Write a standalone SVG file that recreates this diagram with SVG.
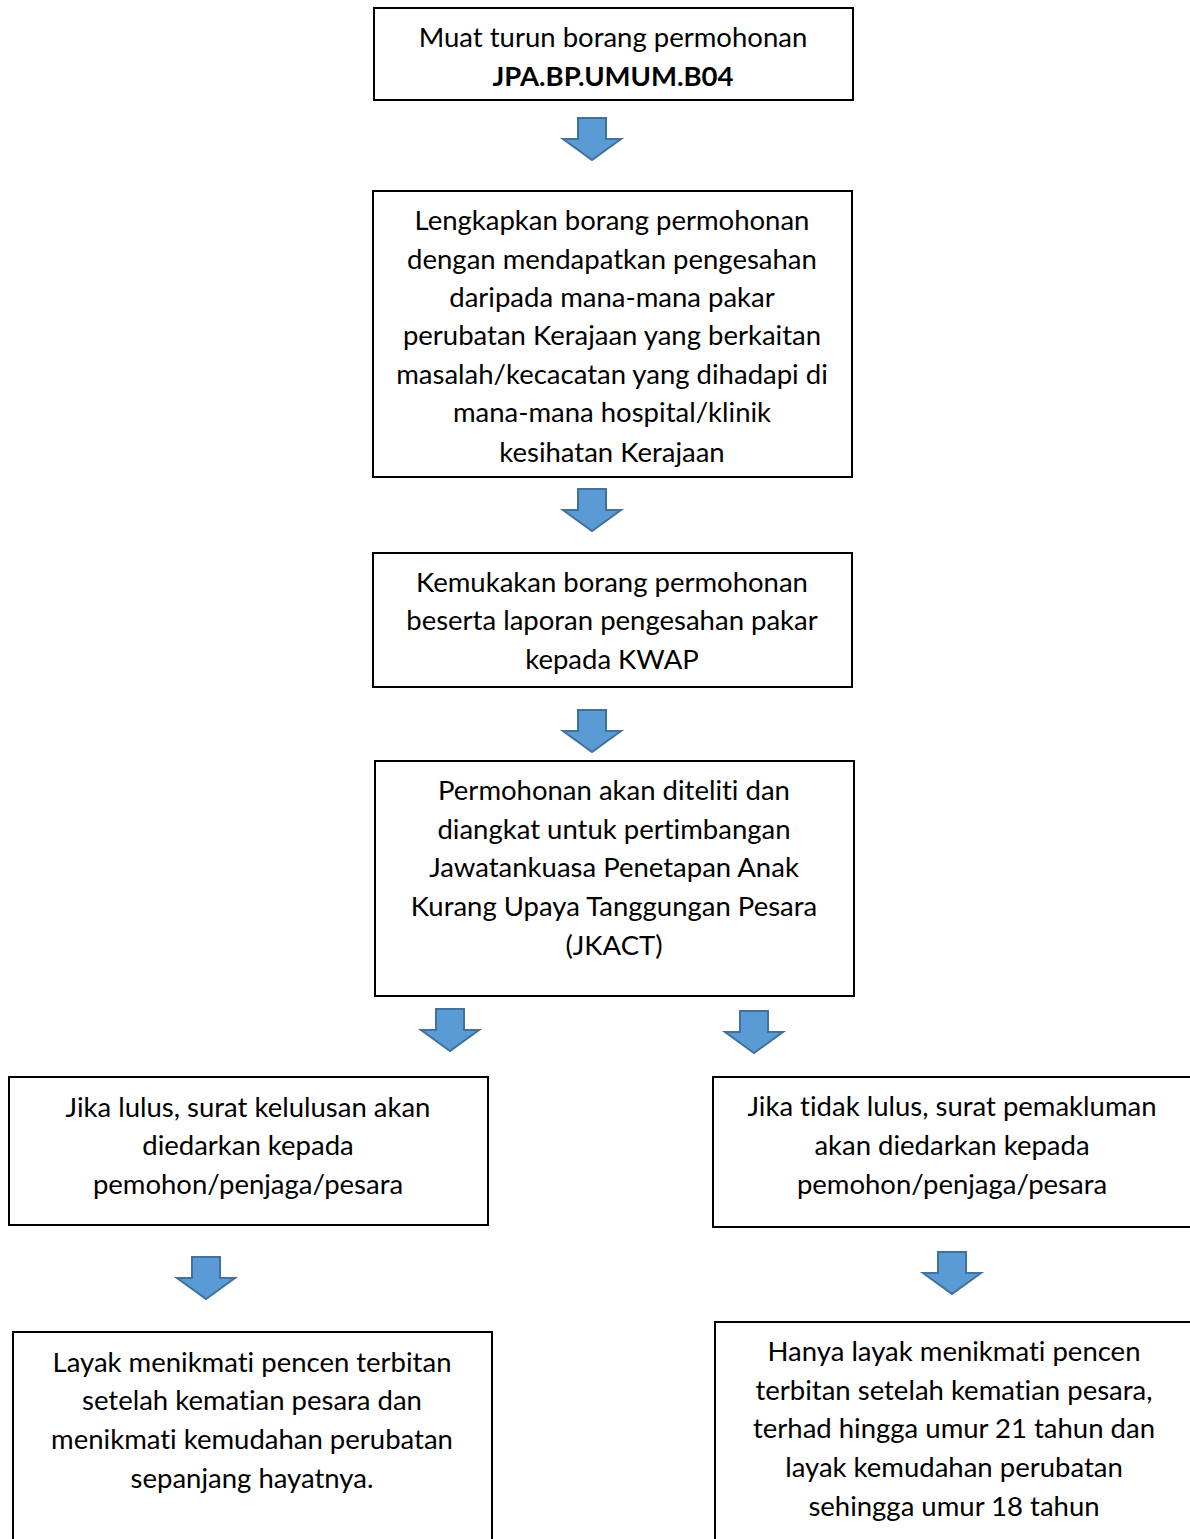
<svg xmlns="http://www.w3.org/2000/svg" width="1190" height="1539" viewBox="0 0 1190 1539">
<style>
.box{fill:#fff;stroke:#000;stroke-width:2}
.t{font-family:Lato,"Liberation Sans",sans-serif;font-size:27.5px;fill:#000;text-anchor:middle;font-variant-ligatures:none}
.b{font-weight:bold}
.arr{fill:#5B9BD5;stroke:#41719C;stroke-width:2;stroke-linejoin:miter}
</style>
<defs>
<path id="arrow" d="M-14,0 H14 V21 H29 L0,42 L-29,21 H-14 Z"/>
</defs>
<rect width="1190" height="1539" fill="#fff"/>
<g id="connectors">
<use href="#arrow" class="arr" x="592" y="118"/>
<use href="#arrow" class="arr" x="592" y="489"/>
<use href="#arrow" class="arr" x="592" y="710"/>
<use href="#arrow" class="arr" x="450" y="1009"/>
<use href="#arrow" class="arr" x="754" y="1011"/>
<use href="#arrow" class="arr" x="206" y="1257"/>
<use href="#arrow" class="arr" x="952" y="1252"/>
</g>
<g id="n1">
<rect class="box" x="374" y="8" width="479" height="92"/>
<text class="t" x="613" y="47">Muat turun borang permohonan</text>
<text class="t b" x="613" y="86">JPA.BP.UMUM.B04</text>
</g>
<g id="n2">
<rect class="box" x="373" y="191" width="479" height="286"/>
<text class="t" x="612" y="230">Lengkapkan borang permohonan</text>
<text class="t" x="612" y="269">dengan mendapatkan pengesahan</text>
<text class="t" x="612" y="307">daripada mana-mana pakar</text>
<text class="t" x="612" y="345">perubatan Kerajaan yang berkaitan</text>
<text class="t" x="612" y="384">masalah/kecacatan yang dihadapi di</text>
<text class="t" x="612" y="422">mana-mana hospital/klinik</text>
<text class="t" x="612" y="462">kesihatan Kerajaan</text>
</g>
<g id="n3">
<rect class="box" x="373" y="553" width="479" height="134"/>
<text class="t" x="612" y="592">Kemukakan borang permohonan</text>
<text class="t" x="612" y="630">beserta laporan pengesahan pakar</text>
<text class="t" x="612" y="669">kepada KWAP</text>
</g>
<g id="n4">
<rect class="box" x="375" y="761" width="479" height="235"/>
<text class="t" x="614" y="800">Permohonan akan diteliti dan</text>
<text class="t" x="614" y="839">diangkat untuk pertimbangan</text>
<text class="t" x="614" y="877">Jawatankuasa Penetapan Anak</text>
<text class="t" x="614" y="916">Kurang Upaya Tanggungan Pesara</text>
<text class="t" x="614" y="955">(JKACT)</text>
</g>
<g id="n5">
<rect class="box" x="9" y="1077" width="479" height="148"/>
<text class="t" x="248" y="1117">Jika lulus, surat kelulusan akan</text>
<text class="t" x="248" y="1155">diedarkan kepada</text>
<text class="t" x="248" y="1194">pemohon/penjaga/pesara</text>
</g>
<g id="n6">
<rect class="box" x="713" y="1077" width="480" height="150"/>
<text class="t" x="952" y="1116">Jika tidak lulus, surat pemakluman</text>
<text class="t" x="952" y="1155">akan diedarkan kepada</text>
<text class="t" x="952" y="1194">pemohon/penjaga/pesara</text>
</g>
<g id="n7">
<rect class="box" x="13" y="1332" width="479" height="210"/>
<text class="t" x="252" y="1372">Layak menikmati pencen terbitan</text>
<text class="t" x="252" y="1410">setelah kematian pesara dan</text>
<text class="t" x="252" y="1449">menikmati kemudahan perubatan</text>
<text class="t" x="252" y="1488">sepanjang hayatnya.</text>
</g>
<g id="n8">
<rect class="box" x="715" y="1322" width="478" height="220"/>
<text class="t" x="954" y="1361">Hanya layak menikmati pencen</text>
<text class="t" x="954" y="1400">terbitan setelah kematian pesara,</text>
<text class="t" x="954" y="1438">terhad hingga umur 21 tahun dan</text>
<text class="t" x="954" y="1477">layak kemudahan perubatan</text>
<text class="t" x="954" y="1516">sehingga umur 18 tahun</text>
</g>
</svg>
